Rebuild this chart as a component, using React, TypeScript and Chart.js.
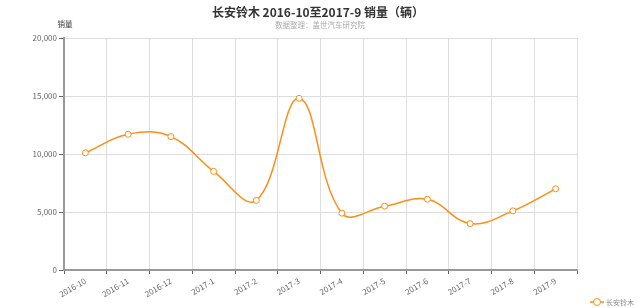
import React, { useEffect, useRef } from "react";
import { Chart, registerables } from "chart.js";

Chart.register(...registerables);

const categories = [
  "2016-10", "2016-11", "2016-12", "2017-1", "2017-2", "2017-3",
  "2017-4", "2017-5", "2017-6", "2017-7", "2017-8", "2017-9",
];
const salesValues = [10100, 11700, 11500, 8500, 6000, 14800, 4900, 5500, 6100, 4000, 5100, 7000];
const yTicks = [0, 5000, 10000, 15000, 20000];

const titleText = "长安铃木 2016-10至2017-9 销量（辆）";
const subtitleText = "数据整理：盖世汽车研究院";
const yAxisName = "销量";
const seriesName = "长安铃木";

const FONT = '"Microsoft YaHei", "Noto Sans CJK SC", sans-serif';
const ORANGE = "#ff8c14";

const overlayPlugin = {
  id: "overlay",
  afterDraw(chart: any) {
    const ctx = chart.ctx as CanvasRenderingContext2D;
    ctx.save();
    ctx.textAlign = "center";
    ctx.textBaseline = "middle";
    ctx.fillStyle = "#333";
    ctx.font = `bold 12px ${FONT}`;
    ctx.fillText(titleText, 318, 12);
    ctx.fillStyle = "#aaa";
    ctx.font = `7.5px ${FONT}`;
    ctx.fillText(subtitleText, 320, 25);
    ctx.fillStyle = "#333";
    ctx.fillText(yAxisName, 65, 24);

    // legend
    const ly = 302;
    ctx.strokeStyle = ORANGE;
    ctx.lineWidth = 1.5;
    ctx.beginPath();
    ctx.moveTo(590, ly);
    ctx.lineTo(604, ly);
    ctx.stroke();
    ctx.beginPath();
    ctx.arc(597, ly, 3.5, 0, Math.PI * 2);
    ctx.fillStyle = "#fff";
    ctx.fill();
    ctx.lineWidth = 1;
    ctx.stroke();
    ctx.textAlign = "left";
    ctx.fillStyle = "#888";
    ctx.font = `7px ${FONT}`;
    ctx.fillText(seriesName, 606, ly);
    ctx.restore();
  },
};

export default function App() {
  const ref = useRef<HTMLCanvasElement | null>(null);
  useEffect(() => {
    if (!ref.current) return;
    const chart = new Chart(ref.current, {
      type: "line",
      data: {
        labels: categories,
        datasets: [
          {
            label: seriesName,
            data: salesValues,
            borderColor: ORANGE,
            borderWidth: 1.5,
            tension: 0.4,
            pointStyle: "circle",
            pointRadius: 3,
            pointBorderWidth: 1,
            pointBackgroundColor: "#fff",
            pointBorderColor: ORANGE,
            fill: false,
          },
        ],
      },
      options: {
        responsive: false,
        animation: false,
        devicePixelRatio: 1,
        layout: { padding: { top: 38, left: 0, right: 63, bottom: 0 } },
        plugins: {
          legend: { display: false },
          title: { display: false },
          tooltip: { enabled: false },
        },
        scales: {
          x: {
            type: "category",
            offset: true,
            grid: {
              offset: true,
              color: "#dddddd",
              lineWidth: 1,
              tickLength: 4,
              tickColor: "#666",
            },
            border: { color: "#999", width: 2 },
            ticks: {
              color: "#666",
              font: { size: 8, family: FONT },
              minRotation: 30,
              maxRotation: 30,
              autoSkip: false,
              padding: 2,
            },
            afterFit(scale: any) {
              scale.height = 38;
            },
          },
          y: {
            min: 0,
            max: 20000,
            afterBuildTicks(scale: any) {
              scale.ticks = yTicks.map((v) => ({ value: v }));
            },
            grid: {
              color: "#dddddd",
              lineWidth: 1,
              tickLength: 5,
              tickColor: "#666",
            },
            border: { color: "#999", width: 2 },
            ticks: {
              color: "#666",
              font: { size: 8, family: FONT },
              padding: 2,
              callback: (v: any) => Number(v).toLocaleString("en-US"),
            },
            afterFit(scale: any) {
              scale.width = 64;
            },
          },
        },
      },
      plugins: [overlayPlugin],
    });
    return () => chart.destroy();
  }, []);
  return (
    <div style={{ position: "absolute", left: 0, top: 0, width: 640, height: 308, background: "#fff" }}>
      <canvas ref={ref} width={640} height={308} style={{ display: "block" }} />
    </div>
  );
}
